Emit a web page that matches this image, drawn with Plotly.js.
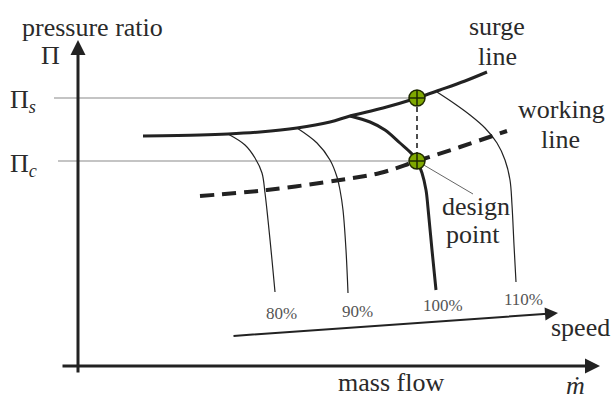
<!DOCTYPE html>
<html><head><meta charset="utf-8">
<script src="https://cdn.plot.ly/plotly-3.0.1.min.js"></script>
<style>html,body{margin:0;padding:0;background:#fff}#c{width:611px;height:401px}</style>
</head><body><div id="c"></div>
<script>
// mass flow (arbitrary units) and pressure ratio values
const surgeX = [16.25, 30.5, 37.5, 45.5, 54.75, 63, 68, 76.25, 84.75, 90.5, 96.75, 102.25];
const surgeY = [3.30, 3.31, 3.32, 3.34, 3.38, 3.44, 3.50, 3.58, 3.68, 3.76, 3.85, 3.94];
const workX = [30.5, 47.25, 65.5, 75.5, 84.75, 95.5, 107.25];
const workY = [2.70, 2.76, 2.86, 2.93, 3.05, 3.19, 3.35];
const s80X = [37.5, 41.75, 44.25, 46, 46.75, 47.5, 48.5, 49.25];
const s80Y = [3.32, 3.21, 3.08, 2.93, 2.73, 2.46, 2.06, 1.74];
const s90X = [54.75, 59.75, 63, 64.75, 65.5, 66.25, 67, 67.5];
const s90Y = [3.38, 3.23, 3.06, 2.89, 2.76, 2.56, 2.16, 1.73];
const s100X = [68, 73, 76.75, 80.5, 83.5, 84.75, 86, 87, 87.5, 88.5, 89.5];
const s100Y = [3.50, 3.44, 3.36, 3.23, 3.12, 3.05, 2.93, 2.76, 2.58, 2.16, 1.76];
const s110X = [89.75, 94.25, 98, 101.75, 104.75, 106.75, 108, 108.5, 109, 109.5];
const s110Y = [3.74, 3.62, 3.51, 3.38, 3.23, 3.06, 2.86, 2.61, 2.21, 1.84];
const designX = [84.75, 84.75];
const designY = [3.68, 3.05];   // Π_s, Π_c
const speedLabels = ['80%', '90%', '100%', '110%'];
const speedLabelX = [50.75, 69.75, 91.25, 111.25];
const speedLabelY = [1.53, 1.55, 1.61, 1.67];

const ink = '#222';
const serif = 'Liberation Serif';
const sp = {shape: 'spline', smoothing: 1};

const traces = [
  {x: [-6, designX[0]], y: [designY[0], designY[0]], mode: 'lines', line: {color: '#8a8a8a', width: 1.2}},
  {x: [-5, designX[1]], y: [designY[1], designY[1]], mode: 'lines', line: {color: '#8a8a8a', width: 1.2}},
  {x: designX, y: designY, mode: 'lines', line: {color: ink, width: 1.6, dash: '5px,4px'}},
  {x: [designX[1], 98.75], y: [designY[1], 2.72], mode: 'lines', line: {color: '#666', width: 1}},
  {x: s80X, y: s80Y, mode: 'lines', line: Object.assign({color: ink, width: 1.2}, sp)},
  {x: s90X, y: s90Y, mode: 'lines', line: Object.assign({color: ink, width: 1.2}, sp)},
  {x: s110X, y: s110Y, mode: 'lines', line: Object.assign({color: ink, width: 1.2}, sp)},
  {x: s100X, y: s100Y, mode: 'lines', line: Object.assign({color: ink, width: 3}, sp)},
  {x: workX, y: workY, mode: 'lines', line: Object.assign({color: ink, width: 4, dash: '14px,8px'}, sp)},
  {x: surgeX, y: surgeY, mode: 'lines', line: Object.assign({color: ink, width: 3}, sp)},
  {x: designX, y: designY, mode: 'markers',
   marker: {symbol: 'circle-cross', size: 16, color: '#7fa800', line: {color: '#1f2a00', width: 1.5}}}
];

const ann = [];
function arrow(x0, y0, x1, y1, w, size) {
  ann.push({x: x1, y: y1, ax: x0, ay: y0, xref: 'x', yref: 'y', axref: 'x', ayref: 'y',
    text: '', showarrow: true, arrowhead: 2, arrowsize: size, arrowwidth: w, arrowcolor: ink, standoff: 0});
}
arrow(-4.25, 1.0, 130.5, 1.0, 3, 1);   // mass flow axis
arrow(0, 0.92, 0, 4.26, 3, 1);         // pressure ratio axis
arrow(38.5, 1.30, 120, 1.53, 2, 1.3);  // speed arrow

function txt(t, x, y, size, opts) {
  ann.push(Object.assign({x: x, y: y, xref: 'x', yref: 'y', text: t, showarrow: false,
    font: {family: serif, size: size, color: '#2a2a2a'}}, opts || {}));
}
txt('pressure ratio', 3.5, 4.39, 26);
txt('Π', -7, 4.11, 26);
txt('Π<sub><i>s</i></sub>', -17.5, 3.65, 26, {xanchor: 'left'});
txt('Π<sub><i>c</i></sub>', -17.5, 3.01, 26, {xanchor: 'left'});
txt('surge', 104.75, 4.40, 26);
txt('line', 104.75, 4.10, 26);
txt('working', 120.75, 3.57, 26);
txt('line', 120.5, 3.27, 26);
txt('design', 99.5, 2.60, 26);
txt('point', 98.75, 2.32, 26);
txt('speed', 125.5, 1.39, 26);
txt('mass flow', 78.25, 0.84, 26);
txt('<i>ṁ</i>', 124.25, 0.66, 26, {yanchor: 'bottom', yshift: -2});
speedLabels.forEach((s, i) => txt(s, speedLabelX[i], speedLabelY[i], 17, {font: {family: serif, size: 17, color: '#555'}}));

const layout = {
  width: 611, height: 401, margin: {l: 0, r: 0, t: 0, b: 0},
  paper_bgcolor: '#fff', plot_bgcolor: '#fff', showlegend: false,
  font: {family: serif},
  xaxis: {range: [-19.5, 133.25], visible: false, fixedrange: true},
  yaxis: {range: [0.65, 4.66], visible: false, fixedrange: true},
  annotations: ann
};
Plotly.newPlot('c', traces, layout, {staticPlot: true});
</script></body></html>
